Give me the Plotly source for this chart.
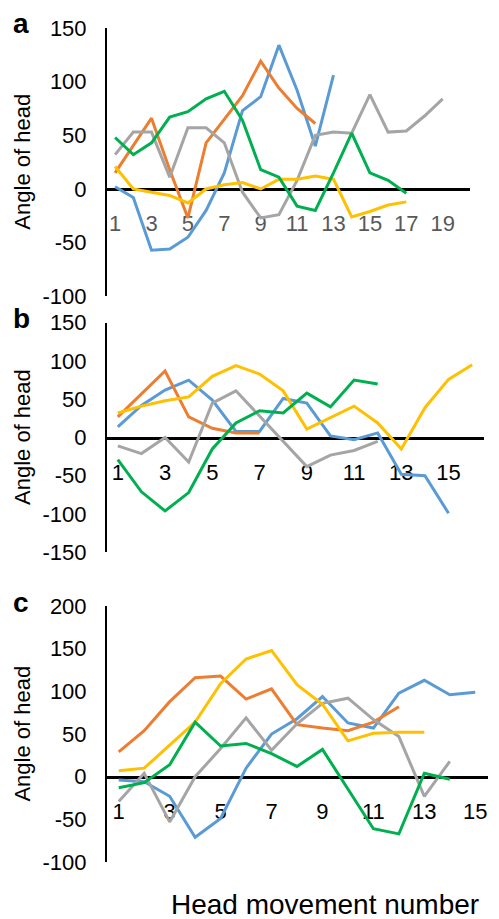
import plotly.graph_objects as go

W, H = 499, 919

# ---------------- data ----------------
moves_a = list(range(1, 21))
ticks_a = [1, 3, 5, 7, 9, 11, 13, 15, 17, 19]
yticks_a = [-100, -50, 0, 50, 100, 150]
a_blue = [2, -8, -57, -56, -45, -20, 15, 73, 86, 134, 92, 40, 106]
a_orange = [15, 40, 66, 18, -27, 43, 65, 87, 119, 94, 75, 61]
a_gray = [32, 53, 53, 11, 57, 57, 43, -3, -27, -24, 8, 50, 53, 52, 88, 53, 54, 68, 84]
a_yellow = [21, 0, -3, -6, -13, 0, 4, 6, 0, 9, 9, 12, 9, -26, -21, -15, -12]
a_green = [48, 32, 43, 67, 72, 84, 91, 64, 18, 11, -16, -20, 15, 52, 15, 8, -4]

moves_b = list(range(1, 17))
ticks_b = [1, 3, 5, 7, 9, 11, 13, 15]
yticks_b = [-150, -100, -50, 0, 50, 100, 150]
b_blue = [14, 42, 62, 75, 49, 8, 8, 51, 45, 2, -3, 6, -48, -50, -99]
b_orange = [27, 57, 87, 27, 12, 6, 6]
b_gray = [-11, -21, 0, -32, 45, 61, 28, -5, -38, -23, -17, -5]
b_yellow = [32, 41, 48, 53, 80, 94, 83, 61, 11, 26, 41, 19, -15, 39, 76, 95]
b_green = [-29, -71, -96, -72, -15, 19, 35, 32, 58, 40, 75, 70]

moves_c = list(range(1, 16))
ticks_c = [1, 3, 5, 7, 9, 11, 13, 15]
yticks_c = [-100, -50, 0, 50, 100, 150, 200]
c_blue = [-4, -6, -23, -71, -49, 10, 50, 68, 94, 63, 57, 98, 113, 96, 99]
c_orange = [29, 54, 88, 116, 118, 91, 103, 61, 57, 54, 64, 82]
c_gray = [-29, 4, -53, 0, 33, 69, 31, 62, 86, 92, 67, 47, -23, 18]
c_yellow = [7, 10, 37, 64, 109, 138, 148, 108, 85, 42, 51, 52, 52]
c_green = [-13, -7, 14, 64, 36, 39, 27, 12, 32, -14, -61, -67, 4, -3]

COLORS = {"blue": "#5B9BD5", "orange": "#ED7D31", "gray": "#A5A5A5",
          "yellow": "#FFC000", "green": "#00B050"}

panels = [
    dict(moves=moves_a, ticks=ticks_a, yticks=yticks_a,
         series=[("blue", a_blue), ("orange", a_orange), ("gray", a_gray),
                 ("yellow", a_yellow), ("green", a_green)],
         yr=[-100, 150], ytop=28.0, ybot=296.3, y0=189.0, xr=[0.5, 20.5], xend=470,
         tickcolor="#595959", letter="a"),
    dict(moves=moves_b, ticks=ticks_b, yticks=yticks_b,
         series=[("blue", b_blue), ("orange", b_orange), ("gray", b_gray),
                 ("yellow", b_yellow), ("green", b_green)],
         yr=[-150, 150], ytop=322.75, ybot=552.25, y0=437.5, xr=[0.5, 16.5], xend=484,
         tickcolor="black", letter="b"),
    dict(moves=moves_c, ticks=ticks_c, yticks=yticks_c,
         series=[("blue", c_blue), ("orange", c_orange), ("gray", c_gray),
                 ("yellow", c_yellow), ("green", c_green)],
         yr=[-100, 200], ytop=606.1, ybot=862.0, y0=776.7, xr=[0.5, 15.5], xend=488,
         tickcolor="black", letter="c"),
]

FONT = "Liberation Sans, Arial, sans-serif"
XSTART = 106

fig = go.Figure()
layout = dict(width=W, height=H, margin=dict(l=0, r=0, t=0, b=0, pad=0, autoexpand=False),
              paper_bgcolor="white", plot_bgcolor="rgba(0,0,0,0)",
              showlegend=False, font=dict(family=FONT, color="black"))
annotations = []

for i, p in enumerate(panels):
    n = "" if i == 0 else str(i + 1)
    for cname, vals in p["series"]:
        fig.add_trace(go.Scatter(x=p["moves"][:len(vals)], y=vals, mode="lines",
                                 line=dict(color=COLORS[cname], width=3),
                                 xaxis="x" + n, yaxis="y" + n, hoverinfo="skip",
                                 cliponaxis=False))
    xd = [XSTART / W, p["xend"] / W]
    yd = [1 - p["ybot"] / H, 1 - p["ytop"] / H]
    layout["xaxis" + n] = dict(domain=xd, range=p["xr"], anchor="free",
                               position=1 - p["y0"] / H, showline=True,
                               linecolor="black", linewidth=2.5, showgrid=False,
                               zeroline=False, tickmode="array", tickvals=p["ticks"],
                               ticktext=[str(t) for t in p["ticks"]],
                               ticks="outside", ticklen=14, tickcolor="rgba(0,0,0,0)",
                               tickfont=dict(size=22, color=p["tickcolor"], family=FONT),
                               layer="below traces", fixedrange=True, automargin=False)
    layout["yaxis" + n] = dict(domain=yd, range=p["yr"], anchor="free",
                               position=XSTART / W, showline=True, linecolor="black",
                               linewidth=2, showgrid=False, zeroline=False,
                               tickmode="array", tickvals=p["yticks"],
                               ticktext=[str(t) for t in p["yticks"]],
                               ticks="outside", ticklen=14, tickcolor="rgba(0,0,0,0)",
                               tickfont=dict(size=22, color="black", family=FONT),
                               layer="below traces", fixedrange=True, automargin=False)
    annotations.append(dict(text="Angle of head", textangle=-90, x=22.5 / W,
                            y=1 - (p["ytop"] + p["ybot"]) / 2 / H, xref="paper",
                            yref="paper", showarrow=False, xanchor="center",
                            yanchor="middle", font=dict(size=22, family=FONT)))
    annotations.append(dict(text="<b>" + p["letter"] + "</b>", x=21 / W,
                            y=1 - (p["ytop"] - 4) / H, xref="paper", yref="paper",
                            showarrow=False, xanchor="center", yanchor="middle",
                            font=dict(size=28, family=FONT)))

annotations.append(dict(text="Head movement number", x=325 / W, y=1 - 904 / H,
                        xref="paper", yref="paper", showarrow=False,
                        xanchor="center", yanchor="middle",
                        font=dict(size=28, family=FONT)))
layout["annotations"] = annotations
fig.update_layout(**layout)
fig.write_html("out.html", config={"displayModeBar": False},
               post_script="document.body.style.margin='0';document.body.style.overflow='hidden';")
